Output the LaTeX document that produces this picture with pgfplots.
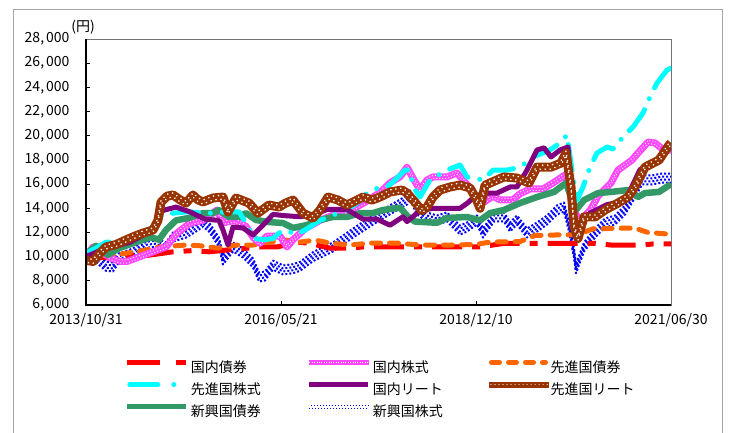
\documentclass[border=0pt]{standalone}
\usepackage{pgfplots}
\pgfplotsset{compat=1.18}
\usepackage{pgfplotstable}
\usepackage{fontspec}
\setmainfont{Noto Sans CJK JP}
\definecolor{cRed}{RGB}{255,0,0}
\definecolor{cMag}{RGB}{255,70,255}
\definecolor{cOrange}{RGB}{255,102,0}
\definecolor{cCyan}{RGB}{0,255,255}
\definecolor{cPurple}{RGB}{128,0,128}
\definecolor{cBrown}{RGB}{153,51,0}
\definecolor{cGreen}{RGB}{51,153,102}
\definecolor{cBlue}{RGB}{0,0,255}

% x = horizontal position (86 = 2013/10/31, 671 = 2021/06/30), y = index value
\pgfplotstableread{
x y
86 10000
110 9900
130 10100
147 10100
156 10200
173 10400
193 10500
209 10400
227 10550
260 10800
277 10800
297 11200
310 11100
330 10700
347 10700
363 10800
393 10800
420 10800
480 10800
504 11100
557 11100
571 11100
595 11100
611 10960
642 10960
653 11050
671 11050
}\tRed
\pgfplotstableread{
x y
86 10000
93 10800
100 10600
110 9900
120 9600
127 9600
140 10000
153 10400
166 10800
177 11950
190 12780
203 13000
217 13860
223 12800
235 13000
246 12500
253 11600
260 11100
267 11700
280 11700
287 10800
293 11400
305 12300
320 13000
335 13500
350 13800
365 14500
380 15300
390 16100
400 16600
407 17400
413 16500
420 15500
427 16340
433 16590
447 16590
457 16920
463 16340
472 15500
480 14300
493 15000
500 14700
513 14700
520 15200
530 15600
543 15600
553 16090
565 16750
570 15260
573 13860
580 13000
590 13800
598 15000
611 16090
618 17160
632 17990
638 18570
648 19480
655 19400
664 18800
671 18800
}\tMag
\pgfplotstableread{
x y
86 10000
100 10050
120 10200
146 10550
160 10800
186 10960
200 10900
218 10700
235 10960
253 10960
268 11200
285 11370
300 11200
315 11370
330 11120
350 10960
370 11120
397 11120
420 10960
450 10960
475 11000
490 11200
520 11250
535 11750
560 11800
571 11800
580 11900
593 12300
620 12350
635 12350
648 12000
671 11850
}\tOrange
\pgfplotstableread{
x y
86 10300
96 10700
106 11200
119 11200
135 11600
158 12700
162 13500
186 13700
210 13600
225 13700
239 13700
248 12500
253 11500
265 11400
273 11500
279 11950
287 12200
295 11800
305 12200
320 13000
335 13500
347 13860
360 14600
367 15260
380 15760
387 15760
395 16340
405 17160
410 17160
413 15760
420 14930
430 16340
447 17160
460 17580
467 16590
483 16340
493 17160
507 17160
520 17400
533 18240
550 18820
560 19400
567 20060
572 17160
577 14680
583 15760
590 17400
597 18570
607 19070
613 18900
623 19900
633 20720
643 21880
650 23200
657 24360
667 25430
671 25600
}\tCyan
\pgfplotstableread{
x y
86 10000
100 10500
130 11200
155 12300
162 13800
176 14100
190 13700
205 13100
219 13000
223 12200
228 10960
233 12450
243 12370
253 11790
263 12600
273 13500
283 13400
300 13300
315 13500
327 13900
347 13900
363 13100
377 13100
390 12600
403 13300
407 12900
420 13800
433 14000
460 14000
467 14400
473 14850
483 15260
497 15260
510 15760
517 15760
527 17160
537 18820
544 19000
551 18240
560 18820
568 19070
571 15760
576 12500
590 13600
607 14300
625 14600
640 17200
652 17700
659 18240
671 19000
}\tPurple
\pgfplotstableread{
x y
86 9700
93 9600
100 10300
106 10800
116 11000
126 11380
135 11700
143 11950
153 12200
158 13000
161 14500
167 15000
173 15100
180 14700
186 14430
193 15100
198 14700
203 14520
213 14850
223 14930
228 13700
236 14850
249 14430
258 13600
269 14270
279 14100
285 14400
293 14680
303 13600
313 13200
320 13860
328 14930
338 14680
347 14270
357 14680
363 14930
372 14680
380 14930
390 15350
402 15510
407 15260
415 14500
422 13800
427 14100
433 14930
440 15510
450 15760
460 15920
470 15680
476 14800
480 14000
485 15900
490 16090
504 16590
517 16500
529 16090
537 17400
551 17400
561 17740
566 18570
571 15760
574 12450
578 11500
584 13280
595 13280
605 13860
618 14430
628 14930
635 15760
645 17400
659 17990
669 19230
671 19400
}\tBrown
\pgfplotstableread{
x y
86 10200
96 10900
108 10150
119 10700
136 11200
151 11600
159 11400
166 12200
176 13000
189 13200
203 13600
213 13600
219 13860
229 13280
239 13280
246 13600
256 13030
269 12860
283 12780
293 12370
307 12620
320 13030
333 13280
347 13280
360 13600
373 13600
383 13860
400 14050
408 13300
415 12900
437 12800
447 13200
467 13280
480 13000
490 13600
504 13860
520 14430
537 14930
554 15350
566 16090
571 14930
576 13860
584 14680
598 15260
611 15350
628 15510
638 14930
645 15260
659 15350
671 16000
}\tGreen
\pgfplotstableread{
x y
86 9800
96 9900
106 9200
113 9150
119 9900
133 10300
146 11100
156 11200
166 10800
173 11620
186 11950
196 12450
203 12860
209 12450
219 11200
223 9720
233 10800
243 10300
253 9470
259 8320
265 8400
273 9300
283 8900
293 9000
300 9200
313 10000
333 10800
353 11950
373 13030
393 14020
407 14680
410 15100
417 13860
427 13280
437 13030
447 13280
460 12200
467 12450
477 13030
483 11950
494 13280
504 13280
510 12450
517 13030
527 11950
537 12450
547 13030
557 13860
564 14100
569 12450
574 10300
576 9000
584 10800
595 11950
605 12780
615 13030
625 13860
635 15260
642 16340
652 16340
662 16500
671 16500
}\tBlue

\begin{document}
\begin{tikzpicture}[x=1pt,y=1pt]
\useasboundingbox (0,0) rectangle (730,432);
\draw[black!35, line width=1pt] (13,-5) -- (13,422) -- (722,422) -- (722,-5);
\begin{axis}[
  at={(86pt,127pt)}, anchor=south west,
  width=585pt, height=266pt, scale only axis,
  xmin=86, xmax=671, ymin=6000, ymax=28000,
  xtick={86,281,476,671},
  xticklabels={\mbox{2013/10/31},\mbox{2016/05/21},\mbox{2018/12/10},\mbox{2021/06/30}},
  ytick={6000,8000,...,28000},
  scaled y ticks=false,
  yticklabel style={/pgf/number format/fixed, /pgf/number format/1000 sep={,\kern2pt}, /pgf/number format/assume math mode=true},
  tick align=inside, tick pos=left, major tick length=4pt,
  tick style={black, line width=0.8pt},
  axis line style={draw=black!55, line width=0.8pt},
  ticklabel style={font=\fontsize{14}{16}\selectfont},
  yticklabel style={xshift=-13pt},
  xticklabel style={yshift=-5pt},
  every axis plot/.append style={line join=round},
  legend columns=3,
  legend style={at={(0.066,-0.205)}, anchor=north west, draw=none, fill=none,
    inner sep=0pt, row sep=8pt, column sep=0pt,
    nodes={inner sep=0pt, font=\fontsize{14}{16}\selectfont}},
  legend cell align=left,
]
% 新興国株式 (dotted band)
\addplot[cBlue, line width=2pt, dash pattern=on 2pt off 2pt, yshift=4.5pt, forget plot] table[x=x,y=y]{\tBlue};
\addplot[cBlue, line width=2pt, dash pattern=on 2pt off 2pt, dash phase=2pt, yshift=1.5pt, forget plot] table[x=x,y=y]{\tBlue};
\addplot[cBlue, line width=2pt, dash pattern=on 2pt off 2pt, yshift=-1.5pt, forget plot] table[x=x,y=y]{\tBlue};
\addplot[cBlue, line width=2pt, dash pattern=on 2pt off 2pt, dash phase=2pt, yshift=-4.5pt, forget plot] table[x=x,y=y]{\tBlue};
% 国内債券
\addplot[cRed, line width=5pt, dash pattern=on 30pt off 10pt on 8pt off 10pt, forget plot] table[x=x,y=y]{\tRed};
% 先進国債券
\addplot[cOrange, line width=5pt, line cap=round, dash pattern=on 9pt off 9pt, forget plot] table[x=x,y=y]{\tOrange};
% 国内株式
\addplot[cMag, line width=7pt, forget plot] table[x=x,y=y]{\tMag};
\addplot[white, line width=1.3pt, line cap=round, dash pattern=on 0.01pt off 3pt, yshift=1.6pt, forget plot] table[x=x,y=y]{\tMag};
\addplot[white, line width=1.3pt, line cap=round, dash pattern=on 0.01pt off 3pt, dash phase=1.5pt, yshift=-1.6pt, forget plot] table[x=x,y=y]{\tMag};
% 新興国債券
\addplot[cGreen, line width=6.5pt, forget plot] table[x=x,y=y]{\tGreen};
% 先進国株式
\addplot[cCyan, line width=5pt, line cap=round, dash pattern=on 26pt off 12pt on 0.01pt off 12pt, forget plot] table[x=x,y=y]{\tCyan};
% 国内リート
\addplot[cPurple, line width=5pt, forget plot] table[x=x,y=y]{\tPurple};
% 先進国リート
\addplot[cBrown, line width=9pt, forget plot] table[x=x,y=y]{\tBrown};
\addplot[white, line width=1.8pt, line cap=round, dash pattern=on 0.01pt off 5pt, yshift=2pt, forget plot] table[x=x,y=y]{\tBrown};
\addplot[white, line width=1.8pt, line cap=round, dash pattern=on 0.01pt off 5pt, dash phase=2.5pt, yshift=-2pt, forget plot] table[x=x,y=y]{\tBrown};

% legend
\addlegendimage{legend image code/.code={\draw[cRed, line width=5pt, dash pattern=on 33pt off 16pt on 10pt off 16pt] (0pt,5pt) -- (59pt,5pt);}}
\addlegendentry{\makebox[118pt][l]{\hspace{2pt}国内債券}}
\addlegendimage{legend image code/.code={\fill[cMag] (0pt,3pt) rectangle (59pt,7pt); \draw[white, line width=0.8pt, dash pattern=on 0.8pt off 1.6pt] (0pt,5pt) -- (59pt,5pt);}}
\addlegendentry{\makebox[118pt][l]{\hspace{2pt}国内株式}}
\addlegendimage{legend image code/.code={\draw[cOrange, line width=5pt, line cap=round, dash pattern=on 8pt off 9pt] (2.5pt,5pt) -- (56.5pt,5pt);}}
\addlegendentry{\makebox[118pt][l]{\hspace{2pt}先進国債券}}
\addlegendimage{legend image code/.code={\draw[cCyan, line width=5pt, line cap=round, dash pattern=on 28pt off 16pt on 0.01pt off 16pt] (2.5pt,5pt) -- (59pt,5pt);}}
\addlegendentry{\makebox[118pt][l]{\hspace{2pt}先進国株式}}
\addlegendimage{legend image code/.code={\draw[cPurple, line width=5pt] (0pt,5pt) -- (59pt,5pt);}}
\addlegendentry{\makebox[118pt][l]{\hspace{2pt}国内リート}}
\addlegendimage{legend image code/.code={\fill[cBrown] (0pt,2.5pt) rectangle (59pt,7.5pt); \draw[white, line width=1.2pt, line cap=round, dash pattern=on 0.01pt off 4pt] (2pt,5pt) -- (59pt,5pt);}}
\addlegendentry{\makebox[118pt][l]{\hspace{2pt}先進国リート}}
\addlegendimage{legend image code/.code={\draw[cGreen, line width=5pt] (0pt,5pt) -- (59pt,5pt);}}
\addlegendentry{\makebox[118pt][l]{\hspace{2pt}新興国債券}}
\addlegendimage{legend image code/.code={\draw[cBlue, line width=1pt, dash pattern=on 1pt off 2pt] (0pt,3.5pt) -- (59pt,3.5pt); \draw[cBlue, line width=1pt, dash pattern=on 1pt off 2pt, dash phase=1.5pt] (0pt,6.5pt) -- (59pt,6.5pt);}}
\addlegendentry{\makebox[118pt][l]{\hspace{2pt}新興国株式}}
\end{axis}
% heavier left and bottom axis lines, and the unit label
\draw[black, line width=1.5pt] (86,393) -- (86,127) -- (671,127);
\node[font=\fontsize{14}{16}\selectfont, anchor=center] at (83,405) {(円)};
\end{tikzpicture}
\end{document}
